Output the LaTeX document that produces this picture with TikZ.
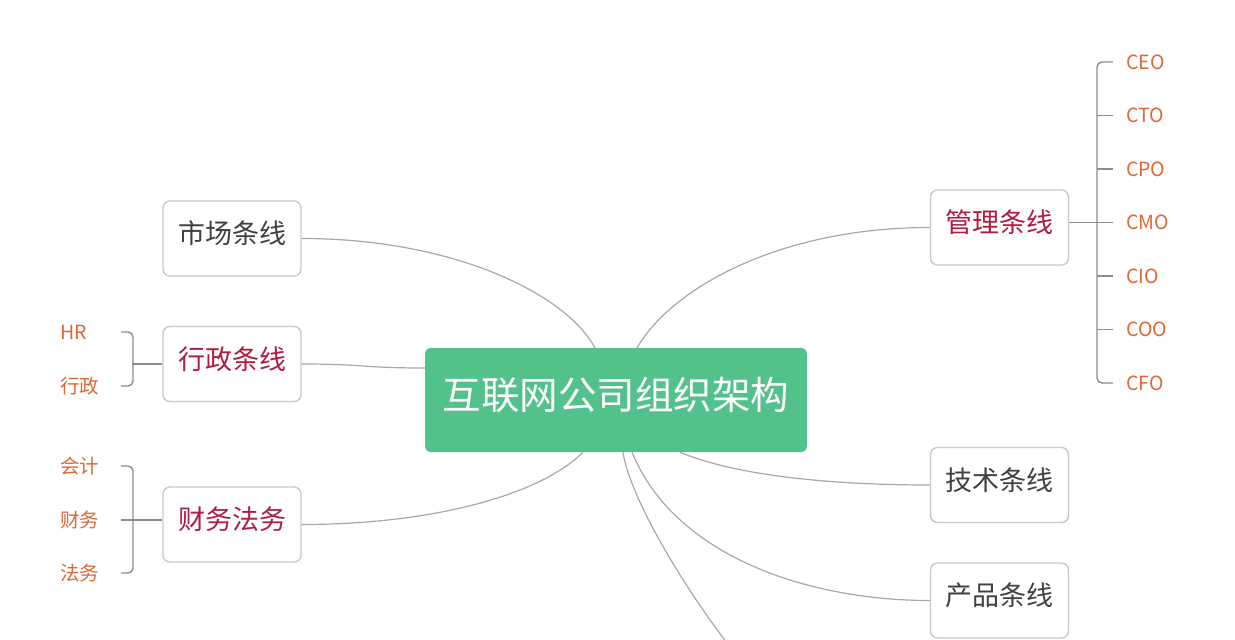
\documentclass[tikz,border=0pt]{standalone}
\usepackage{fontspec}
\setmainfont{Noto Sans CJK SC}
\usetikzlibrary{calc}
\definecolor{rootgreen}{RGB}{82,193,138}
\definecolor{boxline}{RGB}{200,200,200}
\definecolor{connline}{RGB}{168,168,168}
\definecolor{brkline}{RGB}{140,140,140}
\definecolor{darktext}{RGB}{64,64,64}
\definecolor{redtext}{RGB}{176,28,62}
\definecolor{leaftext}{RGB}{221,104,52}
\tikzset{
  rootbox/.style={fill=rootgreen, draw=none, rounded corners=6pt, minimum width=382pt, minimum height=104pt, inner sep=0pt,
    text=white, font=\fontsize{38.5}{40}\selectfont, text height=32.5pt, text depth=12.9pt},
  topicbox/.style={draw=boxline, line width=1.4pt, fill=white, rounded corners=7pt, minimum width=138pt, minimum height=75pt, inner sep=0pt,
    font=\fontsize{27}{30}\selectfont, text height=22.7pt, text depth=12pt},
  graytopic/.style={topicbox, text=darktext},
  redtopic/.style={topicbox, text=redtext},
  leaf/.style={inner sep=0pt, anchor=west, text=leaftext, font=\fontsize{19.5}{22}\selectfont},
  conn/.style={draw=connline, line width=1.2pt},
  brk/.style={draw=brkline, line width=1.4pt},
}
\begin{document}
\begin{tikzpicture}[x=1pt,y=-1pt]
\useasboundingbox (0,0) rectangle (1235,640);
\clip (0,0) rectangle (1235,640);
\fill[white] (0,0) rectangle (1235,640);

% nodes
\node[rootbox] (root) at (616,400) {互联网公司组织架构};
\node[graytopic] (mkt) at (232,238.5) {市场条线};
\node[redtopic] (adm) at (232,364) {行政条线};
\node[redtopic] (fin) at (232,524.5) {财务法务};
\node[redtopic] (mgmt) at (999.5,227.5) {管理条线};
\node[graytopic] (tech) at (999.5,485) {技术条线};
\node[graytopic] (prod) at (999.5,600.5) {产品条线};
\coordinate (hidden) at (765,690);

% right leaves
\node[leaf] (ceo) at (1126,62) {CEO};
\node[leaf] (cto) at (1126,115.5) {CTO};
\node[leaf] (cpo) at (1126,169) {CPO};
\node[leaf] (cmo) at (1126,222.5) {CMO};
\node[leaf] (cio) at (1126,276) {CIO};
\node[leaf] (coo) at (1126,329.5) {COO};
\node[leaf] (cfo) at (1126,383) {CFO};

% left leaves
\node[leaf] (hr) at (60,332) {HR};
\node[leaf] (xz) at (60,386) {行政};
\node[leaf] (kj) at (60,466) {会计};
\node[leaf] (cw) at (60,520) {财务};
\node[leaf] (fw) at (60,573) {法务};

% connectors from root
\draw[conn] (mkt.east) .. controls +(150,0) and +(-30,-55) .. ($(root.north)+(-21,0)$);
\draw[conn] (adm.east) .. controls +(62,0) and +(-62,0) .. ($(root.west)+(0,-32)$);
\draw[conn] (fin.east) .. controls +(130,0) and +(-43,43) .. ($(root.south)+(-33,0)$);
\draw[conn] (mgmt.west) .. controls +(-150,0) and +(35,-60) .. ($(root.north)+(21,0)$);
\draw[conn] ($(root.south)+(64,0)$) .. controls +(60,25) and +(-90,0) .. (tech.west);
\draw[conn] ($(root.south)+(16,0)$) .. controls +(43,105) and +(-120,0) .. (prod.west);
\draw[conn] ($(root.south)+(7,0)$) .. controls +(7,48) and +(-70,-80) .. (hidden);

% right bracket
\draw[brk, rounded corners=5pt] ($(ceo.west)+(-13,0)$) -- ++(-16,0) |- ($(cfo.west)+(-13,0)$);
\foreach \n in {cto,cpo,cmo,cio,coo}{
  \draw[brk] ($(\n.west)+(-13,0)$) -- ++(-16,0);
}
\draw[brk] (mgmt.east |- cmo.west) -- ($(cmo.west)+(-13,0)$);

% left brackets
\draw[brk, rounded corners=5pt] ($(hr.west)+(61,0)$) -- ++(12,0) |- ($(xz.west)+(61,0)$);
\draw[brk] (adm.west) -- ++(-30,0);
\draw[brk, rounded corners=5pt] ($(kj.west)+(61,0)$) -- ++(12,0) |- ($(fw.west)+(61,0)$);
\draw[brk] ($(cw.west)+(61,0)$) -- (fin.west |- cw.west);
\end{tikzpicture}
\end{document}
